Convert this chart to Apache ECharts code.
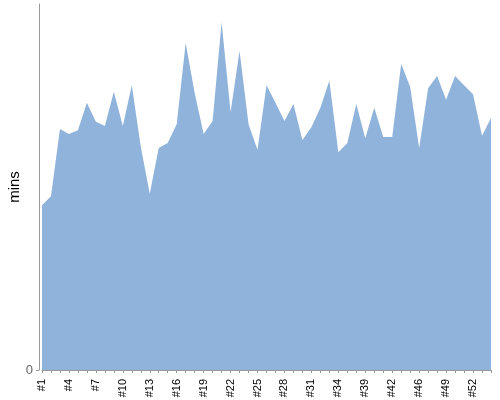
<!DOCTYPE html>
<html>
<head>
<meta charset="utf-8">
<script src="https://cdn.jsdelivr.net/npm/echarts@6/dist/echarts.min.js"></script>
<style>html,body{margin:0;padding:0;background:#fff}#c{width:500px;height:400px}</style>
</head>
<body>
<div id="c"></div>
<script>
var categories = ["#1","#2","#3","#4","#5","#6","#7","#8","#9","#10","#11","#12","#13","#14","#15","#16","#17","#18","#19","#20","#21","#22","#23","#24","#25","#26","#27","#28","#29","#30","#31","#32","#33","#34","#35","#37","#39","#40","#41","#42","#44","#45","#46","#47","#48","#49","#50","#51","#52","#53","#54"];
var minutes = [27.0,28.5,39.5,38.7,39.3,43.8,40.7,40.0,45.6,40.0,46.7,36.6,28.9,36.4,37.2,40.3,53.6,45.4,38.7,40.8,57.0,42.3,52.3,40.3,36.1,46.7,43.8,40.8,43.6,37.7,39.8,43.0,47.4,35.7,37.2,43.6,38.0,43.0,38.2,38.2,50.2,46.4,36.4,46.2,48.2,44.3,48.2,46.7,45.2,38.4,41.3];
var yTicks = [0];
var yMax = 60;

var chart = echarts.init(document.getElementById('c'), null, {renderer: 'canvas'});
chart.setOption({
  animation: false,
  grid: {left: 42, right: 9, top: 4, bottom: 30, containLabel: false, outerBoundsMode: 'none'},
  xAxis: {
    type: 'category',
    data: categories,
    boundaryGap: false,
    offset: 4,
    axisLine: {show: true, lineStyle: {color: '#999', width: 1}},
    axisTick: {show: true, interval: 0, length: 3, lineStyle: {color: '#999'}},
    axisLabel: {interval: 2, rotate: 90, margin: 5, fontSize: 11, color: '#000', fontFamily: 'Liberation Sans, Arial, sans-serif'},
    splitLine: {show: false}
  },
  yAxis: {
    type: 'value',
    min: 0,
    max: yMax,
    offset: 3,
    name: 'mins',
    nameLocation: 'middle',
    nameRotate: 90,
    nameGap: 17,
    nameMoveOverlap: false,
    nameTextStyle: {fontSize: 15, color: '#000', fontFamily: 'Liberation Sans, Arial, sans-serif'},
    axisLine: {show: true, lineStyle: {color: '#999', width: 1}},
    axisTick: {show: true, length: 3, customValues: yTicks, lineStyle: {color: '#999'}},
    axisLabel: {customValues: yTicks, margin: 6, fontSize: 13, color: '#666', fontFamily: 'Liberation Sans, Arial, sans-serif'},
    splitLine: {show: false}
  },
  series: [{
    type: 'line',
    data: minutes,
    symbol: 'none',
    lineStyle: {width: 0},
    areaStyle: {color: '#8fb3da', opacity: 1}
  }]
});
</script>
</body>
</html>
